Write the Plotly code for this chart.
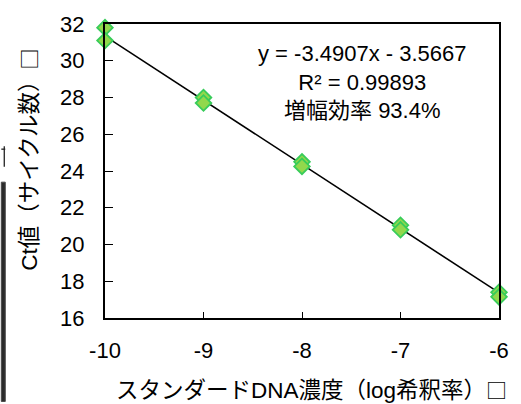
import plotly.graph_objects as go

# Standard curve: log dilution vs Ct (duplicate wells)
log_dilution = [-10, -10, -9, -9, -8, -8, -7, -7, -6, -6]
ct_values = [31.8, 31.1, 28.0, 27.7, 24.5, 24.25, 21.05, 20.8, 17.4, 17.15]

# Linear fit reported on the chart
slope = -3.4907
intercept = -3.5667
r_squared = 0.99893
efficiency_pct = 93.4

x_ticks = [-10, -9, -8, -7, -6]
x_tick_text = ["-10", "-9", "-8", "-7", "-6"]
y_ticks = [16, 18, 20, 22, 24, 26, 28, 30, 32]

fit_x = [-10, -6]
fit_y = [slope * v + intercept for v in fit_x]

W, H = 521, 404
ML, MR, MT, MB = 105, 17, 15, 86
PW, PH = W - ML - MR, H - MT - MB

def px_x(p):
    return (p - ML) / PW

def px_y(p):
    return (H - MB - p) / PH

latin = "Liberation Sans, Arial, sans-serif"
cjk = "Liberation Sans, Noto Sans CJK JP, sans-serif"
box = '<span style="font-family:Noto Sans CJK JP;font-size:21px">□</span>'

fig = go.Figure()
fig.add_trace(go.Scatter(
    x=fit_x, y=fit_y, mode="lines",
    line=dict(color="black", width=1.6),
    showlegend=False, hoverinfo="skip",
))
fig.add_trace(go.Scatter(
    x=log_dilution, y=ct_values, mode="markers",
    marker=dict(symbol="diamond", size=12, color="#92d84c",
                line=dict(color="#38cc5a", width=1.8)),
    showlegend=False, cliponaxis=False,
))

axis_common = dict(
    showline=True, linecolor="black", linewidth=2, mirror=True,
    ticks="inside", tickcolor="black", tickwidth=1.3,
    showgrid=False, zeroline=False,
    tickfont=dict(family=latin, size=22, color="black"),
)

fig.update_layout(
    width=W, height=H,
    margin=dict(l=ML, r=MR, t=MT, b=MB),
    plot_bgcolor="white", paper_bgcolor="white",
    xaxis=dict(range=[-10, -6], tickvals=x_ticks, ticktext=x_tick_text,
               ticklen=6, ticklabelstandoff=12, **axis_common),
    yaxis=dict(range=[16, 32], tickvals=y_ticks, ticklen=8,
               ticklabelstandoff=14, **axis_common),
)

fig.add_annotation(
    xref="paper", yref="paper", x=px_x(314), y=px_y(391),
    text="スタンダードDNA濃度（log希釈率）" + box, showarrow=False,
    font=dict(family=cjk, size=22.5, color="black"),
    xanchor="center", yanchor="middle",
)
fig.add_annotation(
    xref="paper", yref="paper", x=px_x(27), y=px_y(155),
    text="Ct値（サイクル数）" + box, showarrow=False, textangle=-90,
    font=dict(family=cjk, size=22.5, color="black"),
    xanchor="center", yanchor="middle",
)
fig.add_annotation(
    xref="paper", yref="paper", x=px_x(366), y=px_y(75),
    text=(f"y = {slope}x - {abs(intercept)}<br>R² = {r_squared}"
          f"<br>増幅効率 {efficiency_pct}%"),
    showarrow=False, align="center",
    font=dict(family=cjk, size=22, color="black"),
    xanchor="center", yanchor="middle",
)

# Edge strip along the left border
fig.add_shape(type="rect", xref="paper", yref="paper",
              x0=px_x(0), x1=px_x(4), y0=px_y(404), y1=px_y(178),
              fillcolor="#2a2a2a", line=dict(color="#4a4a4a", width=1))
fig.add_shape(type="line", xref="paper", yref="paper",
              x0=px_x(0), x1=px_x(4), y0=px_y(144), y1=px_y(144),
              line=dict(color="#222", width=1.3))
fig.add_shape(type="line", xref="paper", yref="paper",
              x0=px_x(3), x1=px_x(3), y0=px_y(141), y1=px_y(162),
              line=dict(color="#222", width=1.3))

fig.write_html("out.html")
